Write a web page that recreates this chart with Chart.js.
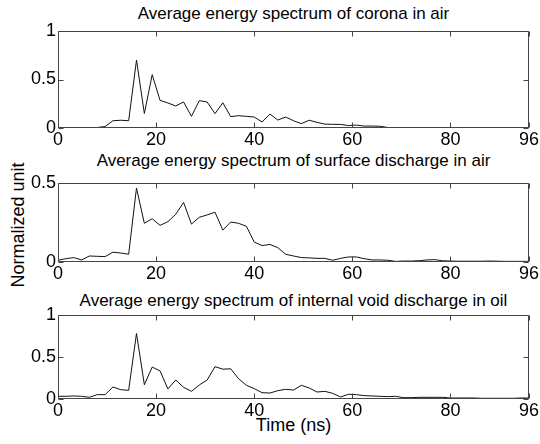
<!DOCTYPE html>
<html>
<head>
<meta charset="utf-8">
<script src="https://cdn.jsdelivr.net/npm/chart.js@4.4.0/dist/chart.umd.min.js"></script>
<style>
  html, body { margin:0; padding:0; background:#fff; }
  #wrap { position:relative; width:540px; height:444px; overflow:hidden; font-family:'Liberation Sans', Arial, sans-serif; color:#000; }
  canvas { position:absolute; left:0; }
  .title { position:absolute; left:58px; width:471px; text-align:center; font-size:17px; line-height:17px; white-space:nowrap; }
  .xlab { position:absolute; left:58px; width:471px; text-align:center; font-size:18px; line-height:18px; top:416px; }
  .ylab { position:absolute; left:18px; top:225px; font-size:18px; line-height:18px; white-space:nowrap; transform:translate(-50%,-50%) rotate(-90deg); }
</style>
</head>
<body>
<div id="wrap">
  <div class="title" style="top:5px">Average energy spectrum of corona in air</div>
  <div class="title" style="top:152px">Average energy spectrum of surface discharge in air</div>
  <div class="title" style="top:292px">Average energy spectrum of internal void discharge in oil</div>
  <div class="xlab">Time (ns)</div>
  <div class="ylab">Normalized unit</div>
  <canvas id="c1" width="540" height="132" style="top:18px"></canvas>
  <canvas id="c2" width="540" height="114" style="top:170px"></canvas>
  <canvas id="c3" width="540" height="119" style="top:302px"></canvas>
</div>
<script>
// Time axis (ns)
const timeNs = [0,1.6,3.2,4.8,6.4,8.0,9.6,11.2,12.8,14.4,16.0,17.6,19.2,20.8,22.4,24.0,25.6,27.2,28.8,30.4,
  32.0,33.6,35.2,36.8,38.4,40.0,41.6,43.2,44.8,46.4,48.0,49.6,51.2,52.8,54.4,56.0,57.6,59.2,60.8,62.4,
  64.0,65.6,67.2,68.8,70.4,72.0,73.6,75.2,76.8,78.4,80.0,81.6,83.2,84.8,86.4,88.0,89.6,91.2,92.8,94.4,96.0];

// Corona in air
const coronaAir = [0,0,0,0,0,0.005,0.015,0.075,0.08,0.075,0.70,0.15,0.55,0.285,0.258,0.227,0.268,0.12,0.282,0.268,
  0.148,0.26,0.117,0.127,0.12,0.113,0.062,0.144,0.082,0.113,0.075,0.045,0.08,0.058,0.04,0.038,0.037,0.025,0.03,0.02,
  0.02,0.018,0.005,0.004,0.004,0.004,0.004,0.004,0.004,0.003,0.002,0.001,0,0,0,0,0,0,0,0,0];

// Surface discharge in air
const surfaceAir = [0.011,0.021,0.028,0.013,0.038,0.036,0.034,0.062,0.057,0.049,0.468,0.245,0.274,0.232,0.255,0.302,0.377,0.24,0.283,0.298,
  0.315,0.202,0.253,0.245,0.226,0.126,0.104,0.111,0.091,0.049,0.038,0.028,0.026,0.023,0.023,0.011,0.023,0.032,0.032,0.021,
  0.013,0.013,0.011,0.004,0.006,0.006,0.008,0.013,0.015,0.008,0.006,0.005,0.005,0.005,0.005,0.006,0.005,0.004,0.004,0.004,0.004];

// Internal void discharge in oil
const voidOil = [0.032,0.032,0.036,0.032,0.02,0.052,0.052,0.143,0.111,0.103,0.78,0.17,0.38,0.335,0.12,0.226,0.139,0.091,0.167,0.226,
  0.385,0.355,0.36,0.242,0.163,0.123,0.075,0.071,0.099,0.115,0.107,0.163,0.131,0.083,0.091,0.067,0.024,0.056,0.052,0.04,
  0.036,0.032,0.028,0.032,0.016,0.016,0.02,0.02,0.02,0.02,0.012,0.012,0.012,0.012,0.008,0.008,0.008,0.008,0.008,0.012,0.012];

// Tick values and labels
const xTicks = [0,20,40,60,80,96];
const xTickLabels = ['0','20','40','60','80','96'];
const yTicksFull = [0,0.5,1];
const yTickLabelsFull = ['0','0.5','1'];
const yTicksHalf = [0,0.5];
const yTickLabelsHalf = ['0','0.5'];

Chart.defaults.font.family = "'Liberation Sans', Arial, Helvetica, sans-serif";
Chart.defaults.color = '#000';

const boxPlugin = {
  id: 'matlabBox',
  afterDraw(chart) {
    const ctx = chart.ctx;
    const a = chart.chartArea;
    const xs = chart.scales.x, ys = chart.scales.y;
    const L = Math.round(a.left) + 0.5, R = Math.round(a.right) - 0.5;
    const T = Math.round(a.top) + 0.5, B = Math.round(a.bottom) - 0.5;
    ctx.save();
    ctx.strokeStyle = '#444';
    ctx.lineWidth = 1;
    ctx.beginPath();
    ctx.rect(L, T, R - L, B - T);
    xs.ticks.forEach(t => {
      const px = Math.round(xs.getPixelForValue(t.value)) + 0.5;
      ctx.moveTo(px, B); ctx.lineTo(px, B - 5);
      ctx.moveTo(px, T); ctx.lineTo(px, T + 5);
    });
    ys.ticks.forEach(t => {
      const py = Math.round(ys.getPixelForValue(t.value)) + 0.5;
      ctx.moveTo(L, py); ctx.lineTo(L + 5, py);
      ctx.moveTo(R, py); ctx.lineTo(R - 5, py);
    });
    ctx.stroke();
    ctx.restore();
  }
};

function makeChart(id, values, yMax, yTicks, yLabels) {
  const pts = timeNs.map((t, i) => ({ x: t, y: values[i] }));
  return new Chart(document.getElementById(id), {
    type: 'line',
    data: { datasets: [{ data: pts, borderColor: '#111', borderWidth: 1, pointRadius: 0, tension: 0, fill: false }] },
    options: {
      responsive: false, animation: false, devicePixelRatio: 1,
      layout: { padding: { top: 13, right: 11, bottom: 0, left: 0 } },
      plugins: { legend: { display: false }, tooltip: { enabled: false }, title: { display: false } },
      scales: {
        x: {
          type: 'linear', min: 0, max: 96,
          afterBuildTicks: s => { s.ticks = xTicks.map(v => ({ value: v })); },
          afterFit: s => { s.height = 22; },
          grid: { display: false, drawTicks: false },
          border: { display: false },
          ticks: { padding: 1, font: { size: 18 }, maxRotation: 0, autoSkip: false,
                   callback: (v) => xTickLabels[xTicks.indexOf(v)] }
        },
        y: {
          type: 'linear', min: 0, max: yMax,
          afterBuildTicks: s => { s.ticks = yTicks.map(v => ({ value: v })); },
          afterFit: s => { s.width = 58; },
          grid: { display: false, drawTicks: false },
          border: { display: false },
          ticks: { padding: 2, font: { size: 18 }, autoSkip: false,
                   callback: (v) => yLabels[yTicks.indexOf(v)] }
        }
      }
    },
    plugins: [boxPlugin]
  });
}

makeChart('c1', coronaAir, 1, yTicksFull, yTickLabelsFull);
makeChart('c2', surfaceAir, 0.5, yTicksHalf, yTickLabelsHalf);
makeChart('c3', voidOil, 1, yTicksFull, yTickLabelsFull);
</script>
</body>
</html>
